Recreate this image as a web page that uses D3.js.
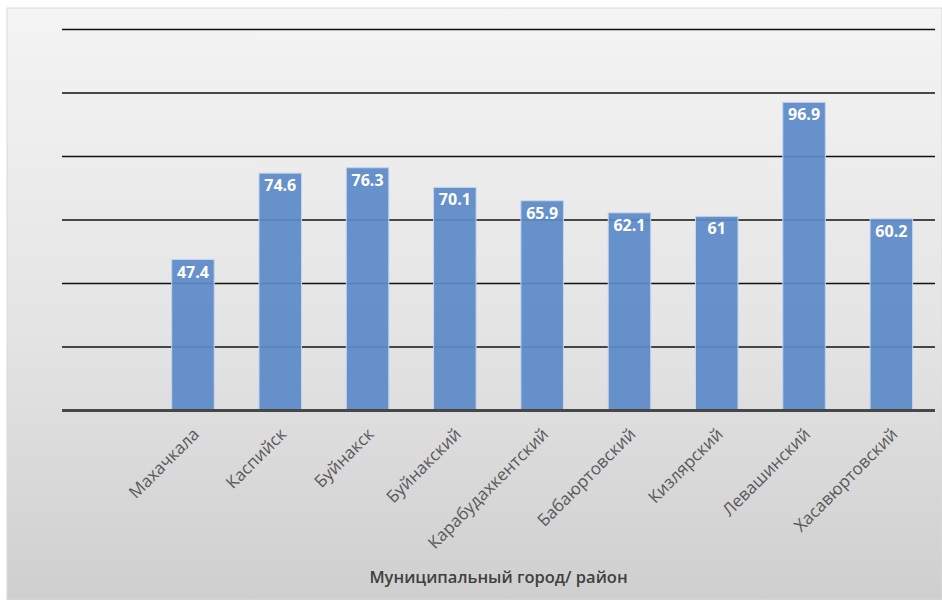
<!DOCTYPE html>
<html>
<head>
<meta charset="utf-8">
<script src="https://cdn.jsdelivr.net/npm/d3@7"></script>
<style>
  html, body { margin: 0; padding: 0; background: #ffffff; }
  svg { display: block; }
</style>
</head>
<body>
<svg id="chart" width="942" height="600"></svg>
<script>
// Municipal city / district (first slot is left empty in the axis)
const categories = ["", "Махачкала", "Каспийск", "Буйнакск", "Буйнакский", "Карабудахкентский",
                    "Бабаюртовский", "Кизлярский", "Левашинский", "Хасавюртовский"];
const values = [null, 47.4, 74.6, 76.3, 70.1, 65.9, 62.1, 61, 96.9, 60.2];
const gridTicks = [0, 20, 40, 60, 80, 100, 120];
const axisTitle = "Муниципальный город/ район";

const svg = d3.select("#chart");
const W = 942, H = 600;
const margin = { top: 29, right: 7, bottom: 190, left: 62 };

// panel background
const defs = svg.append("defs");
const grad = defs.append("linearGradient")
  .attr("id", "bg").attr("x1", 0).attr("y1", 0).attr("x2", 0).attr("y2", 1);
grad.append("stop").attr("offset", "0%").attr("stop-color", "#f4f4f4");
grad.append("stop").attr("offset", "55%").attr("stop-color", "#e4e4e4");
grad.append("stop").attr("offset", "100%").attr("stop-color", "#cfcfcf");

svg.append("rect")
  .attr("x", 7).attr("y", 8).attr("width", W - 7).attr("height", H - 8)
  .attr("fill", "url(#bg)")
  .attr("stroke", "#d9d9d9").attr("stroke-width", 1);

const x = d3.scaleBand()
  .domain(categories.map((c, i) => i))
  .range([margin.left, 935])
  .paddingInner(0.513)
  .paddingOuter(0.2565);

const y = d3.scaleLinear()
  .domain([0, 120])
  .range([410, margin.top]);

// horizontal gridlines
const grid = svg.append("g").attr("class", "grid")
  .attr("transform", `translate(${margin.left},0)`)
  .call(d3.axisLeft(y).tickValues(gridTicks.filter(t => t > 0))
        .tickSize(-(935 - margin.left)).tickFormat(""));
grid.select(".domain").remove();
grid.selectAll(".tick line").attr("stroke", "#111").attr("stroke-width", 1.6);

// bars
const data = categories.map((c, i) => ({ i, c, v: values[i] })).filter(d => d.v != null);

svg.append("g").selectAll("rect")
  .data(data)
  .join("rect")
  .attr("x", d => x(d.i))
  .attr("y", d => y(d.v))
  .attr("width", x.bandwidth())
  .attr("height", d => y(0) - y(d.v))
  .attr("fill", "#5b8ac7")
  .attr("fill-opacity", 0.93)
  .attr("stroke", "#c4d5ec")
  .attr("stroke-width", 1);

// baseline
svg.append("line")
  .attr("x1", margin.left).attr("x2", 935)
  .attr("y1", y(0) + 0.5).attr("y2", y(0) + 0.5)
  .attr("stroke", "#474747").attr("stroke-width", 3);

// value labels inside the top of each bar
svg.append("g").selectAll("text")
  .data(data)
  .join("text")
  .attr("x", d => x(d.i) + x.bandwidth() / 2)
  .attr("y", d => y(d.v) + 18)
  .attr("text-anchor", "middle")
  .attr("font-family", "'Open Sans', sans-serif")
  .attr("font-weight", 700)
  .attr("font-size", 16)
  .attr("fill", "#ffffff")
  .text(d => d.v);

// category axis labels, rotated
const xAxis = svg.append("g")
  .attr("transform", `translate(0,${y(0)})`)
  .call(d3.axisBottom(x).tickSize(0).tickFormat(i => categories[i]));
xAxis.select(".domain").remove();
xAxis.selectAll("text")
  .attr("font-family", "'Open Sans', sans-serif")
  .attr("font-size", 17)
  .attr("fill", "#595959")
  .attr("text-anchor", "end")
  .attr("dy", "0.35em")
  .attr("transform", "translate(1,19) rotate(-45)");

// axis title
svg.append("text")
  .attr("x", (margin.left + 935) / 2)
  .attr("y", 583)
  .attr("text-anchor", "middle")
  .attr("font-family", "'Open Sans', sans-serif")
  .attr("font-weight", 600)
  .attr("font-size", 16.5)
  .attr("fill", "#404040")
  .text(axisTitle);
</script>
</body>
</html>
